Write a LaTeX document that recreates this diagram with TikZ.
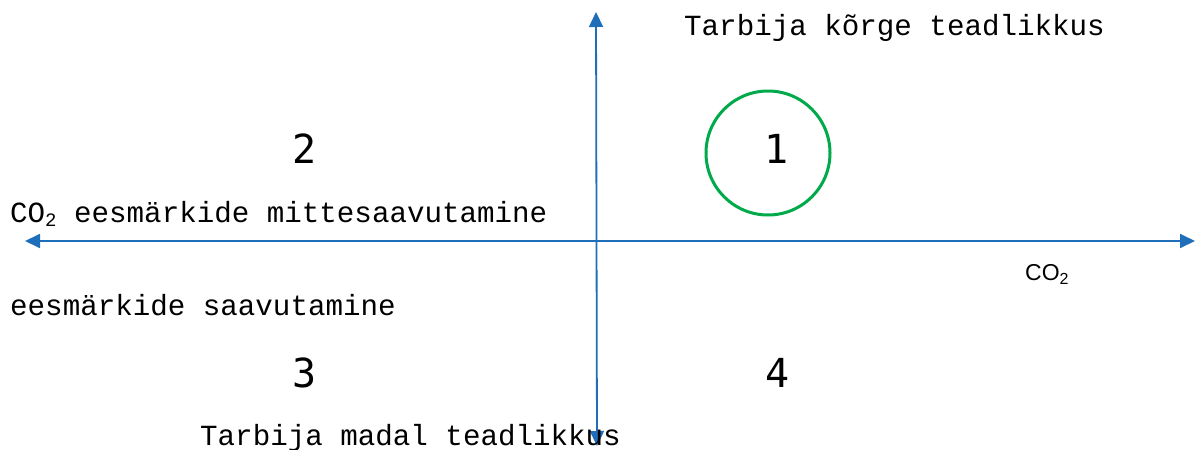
\documentclass[tikz,border=0pt]{standalone}
\usepackage{fontspec}
\setmainfont{Liberation Mono}
\newfontfamily\axsans{Liberation Sans}
\newfontfamily\numfont{DejaVu Sans Mono}
\usetikzlibrary{arrows.meta}
\definecolor{axisblue}{RGB}{30,110,185}
\definecolor{ringgreen}{RGB}{0,170,75}
\begin{document}
\begin{tikzpicture}[x=1pt,y=-1pt,
  axis/.style={draw=axisblue,line width=1.8pt,{Triangle[length=15pt,width=14pt]}-{Triangle[length=15pt,width=14pt]}},
  lbl/.style={inner sep=0pt,anchor=base west,font=\fontsize{29.2}{29.2}\selectfont},
  num/.style={inner sep=0pt,font=\numfont\fontsize{40}{40}\selectfont},
  ring/.style={draw=ringgreen,line width=3pt,circle,minimum size=124pt,inner sep=0pt}]
\useasboundingbox (0,0) rectangle (1195,450);
\coordinate (L) at (25,241);
\coordinate (R) at (1195,241);
\coordinate (T) at (596,12);
\coordinate (B) at (597,446);
\draw[axis] (L) -- (R);
\draw[axis] (B) -- (T);
\node[ring] (c1) at (768,153) {};
\node[num] (n1) at (777,149) {1};
\node[num] (n2) at (305,149) {2};
\node[num] (n3) at (305,373) {3};
\node[num] (n4) at (778,373) {4};
\node[lbl] (top) at (684,35) {Tarbija kõrge teadlikkus};
\node[lbl] (lt) at (10,222) {CO\raisebox{-0.15em}{\fontsize{19}{19}\selectfont 2} eesmärkide mittesaavutamine};
\node[lbl] (lb) at (10,315) {eesmärkide saavutamine};
\node[lbl] (bot) at (200,445) {Tarbija madal teadlikkus};
\node[inner sep=0pt,anchor=base west,font=\axsans\fontsize{23}{23}\selectfont] (co) at (1025,280) {CO\raisebox{-0.2em}{\fontsize{16}{16}\selectfont 2}};
\end{tikzpicture}
\end{document}
